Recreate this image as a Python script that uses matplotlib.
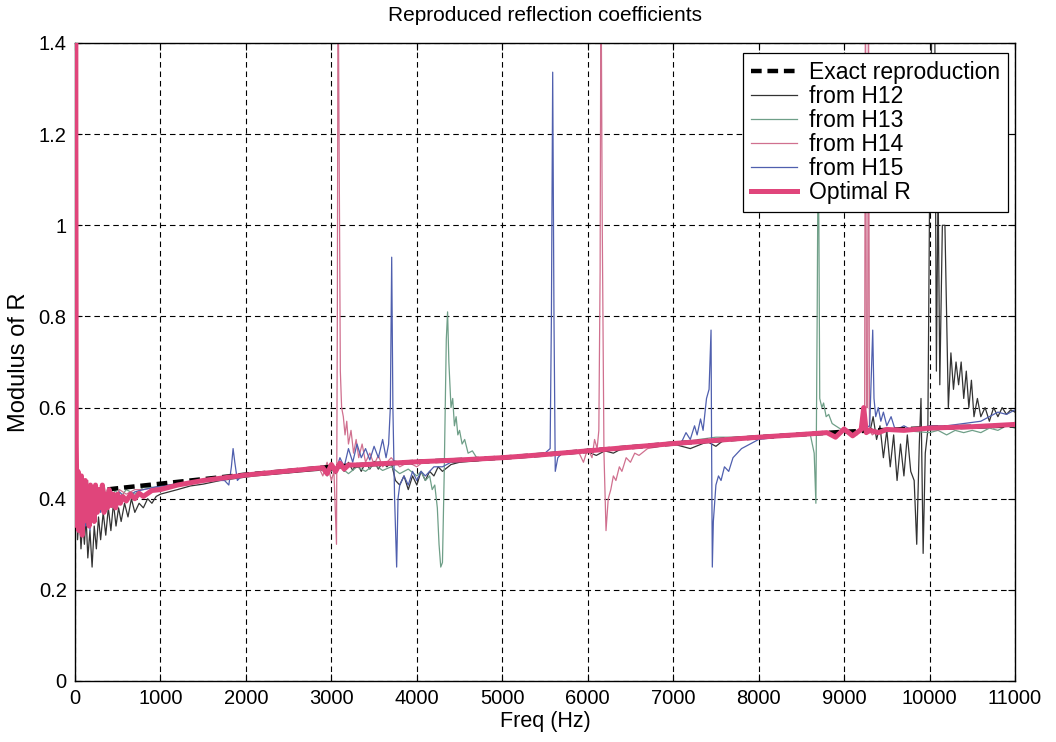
import matplotlib
matplotlib.use("Agg")
import matplotlib.pyplot as plt

# ---------------- data ----------------
XTICKS = [0, 1000, 2000, 3000, 4000, 5000, 6000, 7000, 8000, 9000, 10000, 11000]
YTICKS = [0, 0.2, 0.4, 0.6, 0.8, 1.0, 1.2, 1.4]
YTICK_LABELS = ["0", "0.2", "0.4", "0.6", "0.8", "1", "1.2", "1.4"]

EXACT = [(0, 0.412), (500, 0.423), (1000, 0.433), (1500, 0.443), (2000, 0.453),
         (2500, 0.461), (3000, 0.470), (3500, 0.476), (4000, 0.481), (4500, 0.485),
         (5000, 0.490), (5500, 0.497), (6000, 0.505), (6500, 0.513), (7000, 0.521),
         (7500, 0.528), (8000, 0.535), (8500, 0.541), (9000, 0.547), (9500, 0.551),
         (10000, 0.555), (10500, 0.558), (11000, 0.561)]

H12 = [(0, 0.45), (15, 0.50), (30, 0.31), (50, 0.37), (70, 0.29), (90, 0.35), (110, 0.30),
       (130, 0.36), (150, 0.27), (175, 0.33), (200, 0.25), (225, 0.34), (250, 0.29),
       (275, 0.36), (300, 0.31), (330, 0.37), (360, 0.32), (390, 0.38), (420, 0.33),
       (450, 0.39), (480, 0.34), (510, 0.38), (540, 0.35), (580, 0.39), (620, 0.36),
       (660, 0.40), (700, 0.37), (750, 0.39), (800, 0.38), (850, 0.40), (900, 0.39),
       (950, 0.405), (1000, 0.41), (1100, 0.415), (1200, 0.42), (1350, 0.428),
       (1500, 0.432), (1700, 0.44), (1900, 0.445), (2100, 0.45), (2400, 0.455),
       (2700, 0.46), (2900, 0.463), (2950, 0.45), (3000, 0.47), (3050, 0.455),
       (3100, 0.475), (3150, 0.46), (3200, 0.48), (3250, 0.462), (3300, 0.478),
       (3350, 0.46), (3400, 0.48), (3450, 0.465), (3500, 0.482), (3550, 0.465),
       (3600, 0.48), (3650, 0.47), (3700, 0.48), (3750, 0.44), (3800, 0.43),
       (3850, 0.45), (3900, 0.42), (3950, 0.45), (4000, 0.43), (4050, 0.46),
       (4100, 0.44), (4150, 0.46), (4200, 0.45), (4250, 0.47), (4300, 0.46),
       (4400, 0.475), (4500, 0.48), (4700, 0.483), (5000, 0.488), (5300, 0.494),
       (5600, 0.498), (5800, 0.50), (6000, 0.503), (6100, 0.495), (6200, 0.505),
       (6300, 0.50), (6400, 0.51), (6600, 0.515), (6800, 0.518), (7000, 0.52),
       (7200, 0.51), (7400, 0.525), (7500, 0.515), (7600, 0.53), (7800, 0.532),
       (8000, 0.535), (8200, 0.538), (8400, 0.54), (8600, 0.543), (8800, 0.545),
       (9000, 0.548), (9100, 0.54), (9200, 0.555), (9300, 0.545), (9340, 0.58),
       (9380, 0.53), (9420, 0.56), (9460, 0.49), (9500, 0.55), (9540, 0.47),
       (9580, 0.54), (9620, 0.44), (9660, 0.52), (9700, 0.45), (9740, 0.54),
       (9780, 0.46), (9820, 0.44), (9850, 0.30), (9880, 0.52), (9900, 0.62),
       (9925, 0.28), (9950, 0.50), (9980, 0.55), (10000, 1.05), (10030, 1.50),
       (10060, 1.50), (10080, 0.68), (10100, 1.10), (10120, 0.65), (10150, 1.00),
       (10180, 1.00), (10220, 0.60), (10250, 0.72), (10280, 0.64), (10310, 0.70),
       (10340, 0.65), (10370, 0.70), (10400, 0.62), (10430, 0.68), (10460, 0.60),
       (10490, 0.66), (10520, 0.58), (10560, 0.62), (10600, 0.58), (10650, 0.60),
       (10700, 0.57), (10750, 0.60), (10800, 0.58), (10850, 0.60), (10900, 0.585),
       (10950, 0.595), (11000, 0.59)]

H13 = [(0, 0.42), (20, 0.36), (40, 0.44), (60, 0.34), (80, 0.42), (100, 0.33), (125, 0.41),
       (150, 0.35), (175, 0.42), (200, 0.36), (230, 0.41), (260, 0.37), (300, 0.42),
       (340, 0.38), (380, 0.42), (420, 0.39), (470, 0.42), (520, 0.40), (600, 0.42),
       (700, 0.41), (800, 0.425), (1000, 0.425), (1300, 0.433), (1600, 0.44),
       (2000, 0.45), (2400, 0.458), (2800, 0.465), (3000, 0.46), (3100, 0.47),
       (3200, 0.455), (3300, 0.47), (3400, 0.46), (3500, 0.475), (3600, 0.462),
       (3700, 0.47), (3800, 0.455), (3900, 0.465), (4000, 0.45), (4050, 0.46),
       (4100, 0.44), (4150, 0.45), (4180, 0.42), (4210, 0.43), (4240, 0.38),
       (4260, 0.30), (4280, 0.25), (4300, 0.26), (4320, 0.45), (4345, 0.75),
       (4360, 0.81), (4375, 0.70), (4400, 0.60), (4420, 0.62), (4440, 0.56),
       (4460, 0.58), (4480, 0.54), (4500, 0.55), (4530, 0.52), (4560, 0.53),
       (4600, 0.50), (4650, 0.505), (4700, 0.49), (4800, 0.49), (5000, 0.49),
       (5500, 0.497), (6000, 0.505), (6500, 0.513), (7000, 0.52), (7300, 0.53),
       (7500, 0.535), (7700, 0.535), (7900, 0.535), (8200, 0.538), (8500, 0.541),
       (8600, 0.545), (8650, 0.50), (8670, 0.39), (8685, 0.80), (8695, 1.15),
       (8705, 1.00), (8715, 0.62), (8740, 0.60), (8760, 0.61), (8790, 0.58),
       (8820, 0.585), (8860, 0.565), (8900, 0.56), (9000, 0.548), (9200, 0.55),
       (9500, 0.55), (9800, 0.548), (10000, 0.545), (10100, 0.55), (10200, 0.54),
       (10300, 0.55), (10400, 0.545), (10500, 0.55), (10600, 0.545), (10700, 0.555),
       (10800, 0.55), (10900, 0.56), (11000, 0.555)]

H14 = [(0, 0.40), (20, 0.45), (40, 0.35), (60, 0.44), (80, 0.34), (100, 0.43), (125, 0.36),
       (150, 0.44), (175, 0.37), (200, 0.43), (230, 0.37), (260, 0.42), (300, 0.38),
       (340, 0.43), (380, 0.39), (420, 0.42), (470, 0.40), (520, 0.42), (600, 0.41),
       (700, 0.42), (800, 0.42), (1000, 0.427), (1300, 0.435), (1600, 0.442),
       (2000, 0.452), (2400, 0.46), (2700, 0.465), (2850, 0.47), (2900, 0.45),
       (2950, 0.48), (3000, 0.44), (3030, 0.46), (3060, 0.30), (3070, 0.80),
       (3078, 1.60), (3090, 1.20), (3105, 0.68), (3120, 0.60), (3140, 0.58),
       (3160, 0.54), (3180, 0.57), (3200, 0.52), (3230, 0.55), (3260, 0.50),
       (3290, 0.53), (3320, 0.49), (3360, 0.52), (3400, 0.48), (3450, 0.50),
       (3500, 0.475), (3550, 0.495), (3600, 0.47), (3700, 0.49), (3800, 0.47),
       (3900, 0.48), (4000, 0.47), (4100, 0.485), (4300, 0.48), (4500, 0.485),
       (5000, 0.49), (5500, 0.497), (5900, 0.50), (5950, 0.48), (6000, 0.51),
       (6050, 0.49), (6080, 0.53), (6110, 0.51), (6130, 0.55), (6145, 0.90),
       (6155, 1.60), (6170, 1.00), (6190, 0.50), (6214, 0.33), (6240, 0.40),
       (6270, 0.42), (6300, 0.45), (6330, 0.44), (6370, 0.47), (6400, 0.46),
       (6450, 0.49), (6500, 0.48), (6550, 0.50), (6600, 0.495), (6700, 0.51),
       (7000, 0.52), (7500, 0.528), (8000, 0.535), (8500, 0.541), (9000, 0.547),
       (9150, 0.54), (9200, 0.56), (9240, 0.58), (9250, 1.60), (9262, 0.60),
       (9275, 0.60), (9285, 1.60), (9297, 0.55), (9330, 0.54), (9400, 0.55),
       (9600, 0.55), (10000, 0.555), (10500, 0.558), (11000, 0.561)]

H15 = [(0, 0.38), (20, 0.44), (40, 0.33), (60, 0.42), (80, 0.35), (100, 0.44), (125, 0.34),
       (150, 0.41), (175, 0.33), (200, 0.40), (230, 0.36), (260, 0.42), (300, 0.37),
       (340, 0.41), (380, 0.38), (420, 0.42), (470, 0.39), (520, 0.415), (600, 0.40),
       (700, 0.415), (800, 0.42), (1000, 0.428), (1300, 0.435), (1600, 0.44),
       (1750, 0.44), (1800, 0.43), (1830, 0.47), (1850, 0.51), (1870, 0.48),
       (1900, 0.44), (1950, 0.45), (2100, 0.452), (2400, 0.458), (2800, 0.465),
       (3000, 0.47), (3050, 0.46), (3100, 0.49), (3150, 0.47), (3200, 0.51),
       (3250, 0.48), (3300, 0.52), (3350, 0.49), (3400, 0.51), (3450, 0.485),
       (3500, 0.515), (3550, 0.49), (3600, 0.53), (3640, 0.49), (3670, 0.52),
       (3690, 0.60), (3706, 0.93), (3720, 0.60), (3740, 0.40), (3764, 0.25),
       (3780, 0.40), (3800, 0.43), (3850, 0.45), (3900, 0.43), (3950, 0.46),
       (4000, 0.44), (4050, 0.46), (4100, 0.45), (4200, 0.47), (4300, 0.47),
       (4400, 0.48), (4600, 0.483), (5000, 0.49), (5300, 0.493), (5500, 0.50),
       (5560, 0.51), (5575, 0.80), (5590, 1.336), (5605, 0.80), (5620, 0.46),
       (5650, 0.49), (5700, 0.50), (5800, 0.50), (6000, 0.505), (6500, 0.513),
       (7000, 0.52), (7100, 0.525), (7150, 0.545), (7200, 0.53), (7250, 0.56),
       (7280, 0.54), (7320, 0.575), (7350, 0.55), (7390, 0.62), (7420, 0.64),
       (7443, 0.77), (7450, 0.50), (7458, 0.25), (7470, 0.35), (7500, 0.43),
       (7530, 0.45), (7560, 0.44), (7600, 0.47), (7650, 0.46), (7700, 0.49),
       (7800, 0.51), (8000, 0.53), (8500, 0.541), (9000, 0.548), (9200, 0.55),
       (9300, 0.56), (9320, 0.68), (9335, 0.77), (9350, 0.62), (9370, 0.58),
       (9400, 0.60), (9430, 0.57), (9460, 0.59), (9500, 0.56), (9550, 0.58),
       (9600, 0.55), (9700, 0.56), (9800, 0.55), (10000, 0.56), (10200, 0.56),
       (10400, 0.565), (10600, 0.57), (10700, 0.58), (10800, 0.59), (10900, 0.585),
       (11000, 0.595)]

OPTIMAL = [(0, 0.40), (8, 1.50), (15, 0.52), (25, 0.34), (35, 0.46), (45, 0.33), (55, 0.44),
           (65, 0.36), (75, 0.45), (85, 0.32), (95, 0.43), (105, 0.35), (120, 0.44),
           (135, 0.36), (150, 0.42), (165, 0.34), (180, 0.43), (195, 0.37), (210, 0.42),
           (225, 0.35), (240, 0.43), (260, 0.37), (280, 0.42), (300, 0.38), (320, 0.43),
           (340, 0.37), (360, 0.41), (380, 0.38), (400, 0.42), (425, 0.385), (450, 0.41),
           (475, 0.38), (500, 0.41), (530, 0.39), (560, 0.405), (600, 0.395), (650, 0.41),
           (700, 0.40), (750, 0.412), (800, 0.405), (900, 0.418), (1000, 0.42),
           (1200, 0.43), (1500, 0.44), (2000, 0.452), (2500, 0.461), (2900, 0.468),
           (2950, 0.455), (3000, 0.475), (3050, 0.46), (3100, 0.478), (3150, 0.465),
           (3200, 0.474), (3300, 0.474), (3500, 0.476), (4000, 0.481), (4500, 0.485),
           (5000, 0.490), (5500, 0.497), (6000, 0.505), (6500, 0.513), (7000, 0.521),
           (7500, 0.528), (8000, 0.535), (8500, 0.541), (8800, 0.545), (8900, 0.535),
           (9000, 0.553), (9100, 0.538), (9200, 0.552), (9230, 0.60), (9260, 0.545),
           (9300, 0.55), (9400, 0.545), (9500, 0.552), (9700, 0.55), (10000, 0.555),
           (10500, 0.558), (11000, 0.563)]

LABELS = ["Exact reproduction", "from H12", "from H13", "from H14", "from H15", "Optimal R"]
COLORS = ["#000000", "#333333", "#6f9f88", "#d0708f", "#4f5fae", "#e0457b"]

# ---------------- figure ----------------
plt.rcParams["font.family"] = ["Liberation Sans", "DejaVu Sans"]
fig = plt.figure(figsize=(10.56, 7.42), dpi=100)
ax = fig.add_axes([75 / 1056, 1 - 681 / 742, 940 / 1056, 638 / 742])


def xy(series):
    return [p[0] for p in series], [p[1] for p in series]


ax.plot(*xy(EXACT), color=COLORS[0], lw=3.2, ls=(0, (2.4, 1.3)), label=LABELS[0], zorder=3)
ax.plot(*xy(H12), color=COLORS[1], lw=0.9, label=LABELS[1], zorder=2)
ax.plot(*xy(H13), color=COLORS[2], lw=0.9, label=LABELS[2], zorder=2)
ax.plot(*xy(H14), color=COLORS[3], lw=0.9, label=LABELS[3], zorder=2)
ax.plot(*xy(H15), color=COLORS[4], lw=0.9, label=LABELS[4], zorder=2)
ax.plot(*xy(OPTIMAL), color=COLORS[5], lw=3.6, label=LABELS[5], zorder=4)

ax.set_xlim(0, 11000)
ax.set_ylim(0, 1.4)
ax.set_xticks(XTICKS)
ax.set_xticklabels([str(t) for t in XTICKS])
ax.set_yticks(YTICKS)
ax.set_yticklabels(YTICK_LABELS)
ax.tick_params(direction="in", length=5, width=0.8, labelsize=14.5, top=True, right=True,
               pad=6)
ax.grid(True, color="black", ls=(0, (5, 3.5)), lw=0.8)
ax.set_axisbelow(True)
for s in ax.spines.values():
    s.set_linewidth(1.0)

ax.set_title("Reproduced reflection coefficients", fontsize=15, pad=16)
ax.set_xlabel("Freq (Hz)", fontsize=15.5, labelpad=2)
ax.set_ylabel("Modulus of R", fontsize=17, labelpad=6)

leg = ax.legend(loc="upper right", bbox_to_anchor=(0.993, 0.985), borderaxespad=0,
                fontsize=16.5, frameon=True, fancybox=False, framealpha=1,
                edgecolor="black", handlelength=2.0, labelspacing=0.05,
                borderpad=0.35, handletextpad=0.55)
leg.get_frame().set_linewidth(0.9)

fig.savefig("out.png", dpi=100, facecolor="white")
